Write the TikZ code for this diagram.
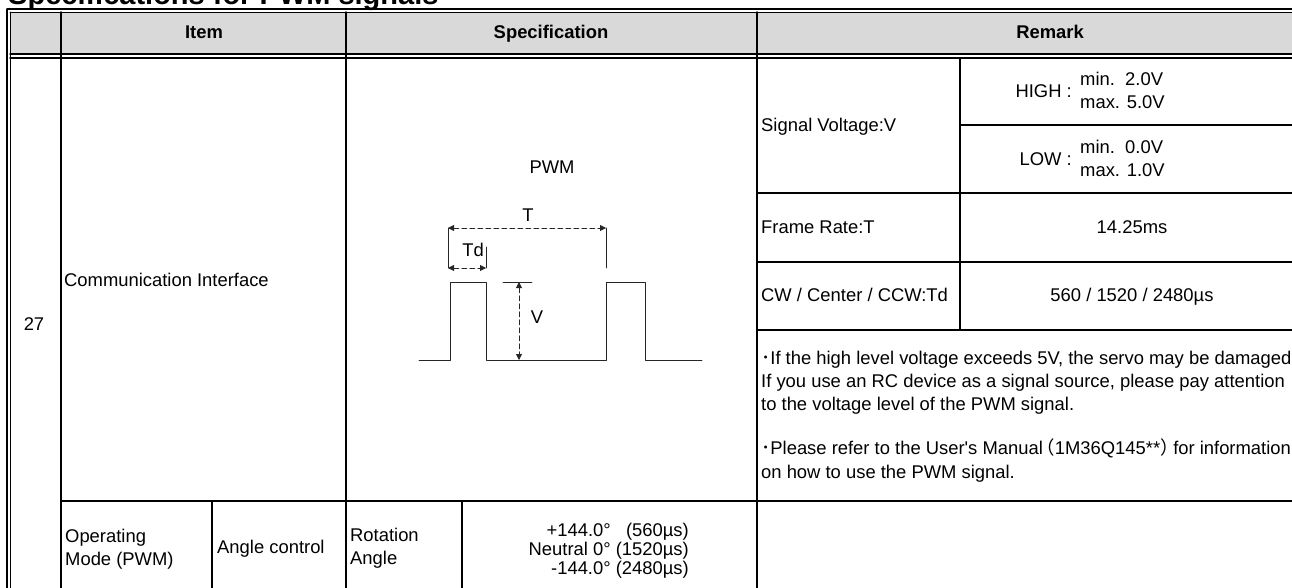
\documentclass[tikz,border=0pt]{standalone}
\usepackage{fontspec}
\setmainfont{Liberation Sans}
\newfontfamily\cjk{Noto Sans CJK JP}
\usetikzlibrary{arrows.meta,calc}
\definecolor{headgray}{HTML}{D9D9D9}
\newcommand{\lpar}{\makebox[12pt][r]{\cjk （}}
\newcommand{\rpar}{\makebox[13pt][l]{\cjk ）}}
\tikzset{
  grid/.style={line width=1.4pt,black},
  wave/.style={line width=0.9pt,black!85},
  dimline/.style={line width=0.9pt,black!85,dash pattern=on 5pt off 3pt,
    {Triangle[length=6pt,width=6pt]}-{Triangle[length=6pt,width=6pt]}},
  txt/.style={inner sep=0pt,text height=13.2pt,text depth=0pt,
    font=\fontsize{18.4}{23}\selectfont},
  headtxt/.style={txt,font=\fontsize{18.4}{23}\selectfont\bfseries},
  titletxt/.style={inner sep=0pt,font=\fontsize{29}{34}\selectfont\bfseries},
}
\begin{document}
\begin{tikzpicture}[x=1pt,y=-1pt,line join=round,line cap=round]
\useasboundingbox (0,0) rectangle (1292,587);
% title, cut by the page edge
\node[titletxt,anchor=base west] (title) at (8,4) {Specifications for PWM signals};
% header row
\fill[headgray] (10,12) rectangle (1310,54);
\draw[grid] (7,9)--(1310,9) (7,9)--(7,600);
\draw[line width=0.8pt] (10,12)--(1310,12) (10,12)--(10,600);
\draw[grid] (10,54)--(1310,54) (10,58)--(1310,58);
% columns and rows
\draw[grid] (61,12)--(61,600) (346,12)--(346,600) (757,12)--(757,600);
\draw[grid] (960,58)--(960,330) (960,125)--(1310,125)
  (757,193)--(1310,193) (757,262)--(1310,262) (757,330)--(1310,330)
  (61,501)--(1310,501) (212,501)--(212,600) (462,501)--(462,600);
\foreach \n/\x/\t in {item/204/Item,spec/551/Specification,remark/1050/Remark}
  {\node[headtxt] (\n) at (\x,32) {\t};}
\node[txt] (no) at (34,324) {27};
\node[txt,anchor=west] (comm) at (64,280) {Communication Interface};
% PWM waveform
\coordinate (W0) at (419,360);
\coordinate (W1) at (450,360);
\coordinate (W2) at (450,282);
\coordinate (W3) at (486,282);
\coordinate (W4) at (486,360);
\coordinate (W5) at (606,360);
\coordinate (W6) at (606,282);
\coordinate (W7) at (645,282);
\coordinate (W8) at (645,360);
\coordinate (W9) at (702,360);
\draw[wave] (W0)--(W1)--(W2)--(W3)--(W4)--(W5)--(W6)--(W7)--(W8)--(W9);
\coordinate (Ta) at (448,228);
\coordinate (Tb) at (606,228);
\coordinate (Da) at (448,268);
\coordinate (Db) at (486,268);
\coordinate (Va) at (519,282);
\coordinate (Vb) at (519,360);
\draw[wave] (Ta)--(Da) (Tb)--($(Tb)+(0,40)$) (Db)--($(Db)+(0,-21)$) (503,282)--(532,282);
\draw[dimline] (Ta)--(Tb);
\draw[dimline] (Da)--(Db);
\draw[dimline] (Va)--(Vb);
\foreach \n/\x/\y/\t in {pwm/552/167/PWM,tl/528/215/T,tdl/473/250/Td,vl/537/317/V}
  {\node[txt] (\n) at (\x,\y) {\t};}
% remark column
\foreach \n/\y/\t in {sv/125/{Signal Voltage:V},fr/227/{Frame Rate:T},cw/295/{CW / Center / CCW:Td}}
  {\node[txt,anchor=west] (\n) at (761,\y) {\t};}
\node[txt,anchor=east] (high) at (1072,91) {HIGH :};
\node[txt,anchor=west] (hmin) at (1080,79) {min.\ \ 2.0V};
\node[txt,anchor=west] (hmax) at (1080,102) {max. 5.0V};
\node[txt,anchor=east] (low) at (1072,159) {LOW :};
\node[txt,anchor=west] (lmin) at (1080,147) {min.\ \ 0.0V};
\node[txt,anchor=west] (lmax) at (1080,170) {max. 1.0V};
\node[txt] (frv) at (1132,227) {14.25ms};
\node[txt] (cwv) at (1132,295) {560 / 1520 / 2480µs};
\foreach \n/\y/\t in {
  na/358/{{\cjk ･}If the high level voltage exceeds 5V, the servo may be damaged},
  nb/381/{If you use an RC device as a signal source, please pay attention},
  nc/404/{to the voltage level of the PWM signal.},
  nd/448/{{\cjk ･}Please refer to the User\textquotesingle s Manual\lpar 1M36Q145**\rpar for information},
  ne/472/{on how to use the PWM signal.}}
  {\node[txt,anchor=west] (\n) at (761,\y) {\t};}
% operating mode row
\node[txt,anchor=west] (opa) at (65,536) {Operating};
\node[txt,anchor=west] (opb) at (65,559) {Mode (PWM)};
\node[txt,anchor=west] (ang) at (217,547) {Angle control};
\node[txt,anchor=west] (rota) at (350,535) {Rotation};
\node[txt,anchor=west] (rotb) at (350,558) {Angle};
\node[txt,anchor=east] (rv1) at (689,530) {+144.0°\ \ \ (560µs)};
\node[txt,anchor=east] (rv2) at (689,549) {Neutral 0° (1520µs)};
\node[txt,anchor=east] (rv3) at (689,568) {-144.0° (2480µs)};
\end{tikzpicture}
\end{document}
